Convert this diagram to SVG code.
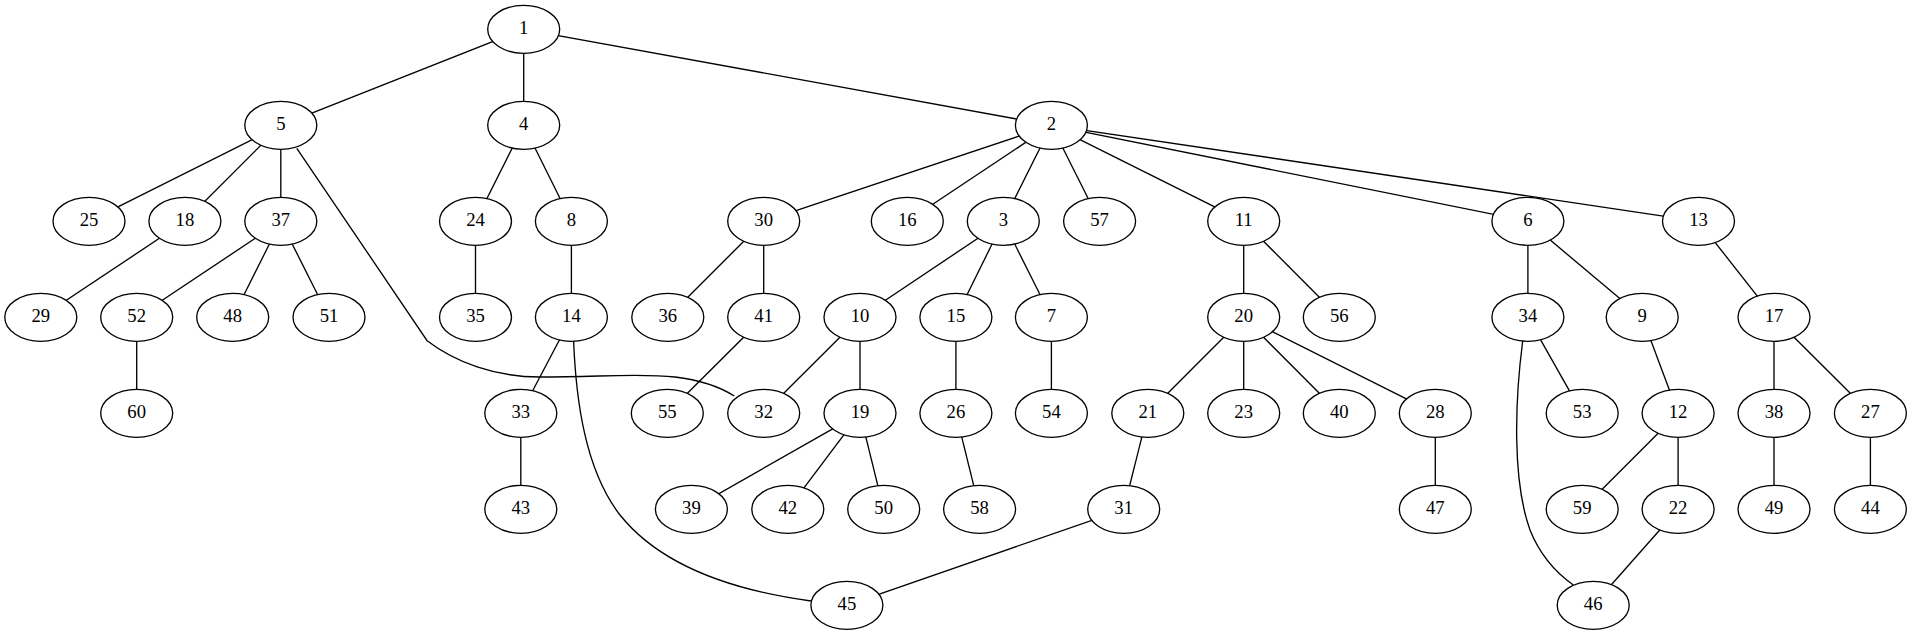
<svg xmlns="http://www.w3.org/2000/svg" width="1912" height="635" viewBox="0 0 1912 635">
<style>
.n ellipse{fill:#fff;stroke:#000;stroke-width:1.33}
.n text{font-family:"Liberation Serif","Times New Roman",serif;font-size:18.67px;text-anchor:middle;fill:#000}
#edges line,#edges path{stroke:#000;stroke-width:1.33;fill:none}
</style>
<rect width="1912" height="635" fill="#fff"/>
<g id="edges">
<line x1="523.7" y1="29.3" x2="280.8" y2="125.3"/>
<line x1="523.7" y1="29.3" x2="523.7" y2="125.3"/>
<line x1="523.7" y1="29.3" x2="1051.4" y2="125.3"/>
<line x1="280.8" y1="125.3" x2="89" y2="221.3"/>
<line x1="280.8" y1="125.3" x2="184.9" y2="221.3"/>
<line x1="280.8" y1="125.3" x2="280.8" y2="221.3"/>
<path d="M296.8,148.3 L427.1,340.7 C455,362 495,377 540,377 C600,377 640,373 675,377 C700,380 720,387 734.3,396"/>
<line x1="523.7" y1="125.3" x2="475.5" y2="221.3"/>
<line x1="523.7" y1="125.3" x2="571.4" y2="221.3"/>
<line x1="1051.4" y1="125.3" x2="763.7" y2="221.3"/>
<line x1="1051.4" y1="125.3" x2="907.3" y2="221.3"/>
<line x1="1051.4" y1="125.3" x2="1003.3" y2="221.3"/>
<line x1="1051.4" y1="125.3" x2="1099.6" y2="221.3"/>
<line x1="1051.4" y1="125.3" x2="1243.7" y2="221.3"/>
<line x1="1051.4" y1="125.3" x2="1527.9" y2="221.3"/>
<line x1="1051.4" y1="125.3" x2="1698.5" y2="221.3"/>
<line x1="184.9" y1="221.3" x2="40.8" y2="317.3"/>
<line x1="280.8" y1="221.3" x2="136.7" y2="317.3"/>
<line x1="280.8" y1="221.3" x2="232.7" y2="317.3"/>
<line x1="280.8" y1="221.3" x2="329" y2="317.3"/>
<line x1="475.5" y1="221.3" x2="475.5" y2="317.3"/>
<line x1="571.4" y1="221.3" x2="571.4" y2="317.3"/>
<line x1="763.7" y1="221.3" x2="667.8" y2="317.3"/>
<line x1="763.7" y1="221.3" x2="763.7" y2="317.3"/>
<line x1="1003.3" y1="221.3" x2="860" y2="317.3"/>
<line x1="1003.3" y1="221.3" x2="955.9" y2="317.3"/>
<line x1="1003.3" y1="221.3" x2="1051.4" y2="317.3"/>
<line x1="1243.7" y1="221.3" x2="1243.7" y2="317.3"/>
<line x1="1243.7" y1="221.3" x2="1339.3" y2="317.3"/>
<line x1="1527.9" y1="221.3" x2="1527.9" y2="317.3"/>
<line x1="1527.9" y1="221.3" x2="1642.2" y2="317.3"/>
<line x1="1698.5" y1="221.3" x2="1774" y2="317.3"/>
<line x1="136.7" y1="317.3" x2="136.7" y2="413.3"/>
<line x1="571.4" y1="317.3" x2="520.8" y2="413.3"/>
<path d="M573.6,340.7 C576,400 585,470 620,515 C660,565 730,590 811,601"/>
<line x1="763.7" y1="317.3" x2="667.3" y2="413.3"/>
<line x1="860" y1="317.3" x2="763.7" y2="413.3"/>
<line x1="860" y1="317.3" x2="860" y2="413.3"/>
<line x1="955.9" y1="317.3" x2="955.9" y2="413.3"/>
<line x1="1051.4" y1="317.3" x2="1051.4" y2="413.3"/>
<line x1="1243.7" y1="317.3" x2="1147.8" y2="413.3"/>
<line x1="1243.7" y1="317.3" x2="1243.7" y2="413.3"/>
<line x1="1243.7" y1="317.3" x2="1339.3" y2="413.3"/>
<line x1="1243.7" y1="317.3" x2="1435.3" y2="413.3"/>
<line x1="1527.9" y1="317.3" x2="1582.2" y2="413.3"/>
<path d="M1522.7,341 C1515,400 1512,480 1530,530 C1540,555 1555,572 1573.3,585"/>
<line x1="1642.2" y1="317.3" x2="1678.1" y2="413.3"/>
<line x1="1774" y1="317.3" x2="1774" y2="413.3"/>
<line x1="1774" y1="317.3" x2="1870.4" y2="413.3"/>
<line x1="520.8" y1="413.3" x2="520.8" y2="509.3"/>
<line x1="860" y1="413.3" x2="691.4" y2="509.3"/>
<line x1="860" y1="413.3" x2="787.8" y2="509.3"/>
<line x1="860" y1="413.3" x2="883.7" y2="509.3"/>
<line x1="955.9" y1="413.3" x2="979.6" y2="509.3"/>
<line x1="1147.8" y1="413.3" x2="1123.7" y2="509.3"/>
<line x1="1435.3" y1="413.3" x2="1435.3" y2="509.3"/>
<line x1="1678.1" y1="413.3" x2="1582.2" y2="509.3"/>
<line x1="1678.1" y1="413.3" x2="1678.1" y2="509.3"/>
<line x1="1774" y1="413.3" x2="1774" y2="509.3"/>
<line x1="1870.4" y1="413.3" x2="1870.4" y2="509.3"/>
<line x1="1123.7" y1="509.3" x2="846.9" y2="605.3"/>
<line x1="1678.1" y1="509.3" x2="1593.2" y2="605.3"/>
</g>
<g id="n1" class="n"><ellipse cx="523.7" cy="29.3" rx="36" ry="24"/><text x="523.7" y="34.3">1</text></g>
<g id="n2" class="n"><ellipse cx="1051.4" cy="125.3" rx="36" ry="24"/><text x="1051.4" y="130.3">2</text></g>
<g id="n3" class="n"><ellipse cx="1003.3" cy="221.3" rx="36" ry="24"/><text x="1003.3" y="226.3">3</text></g>
<g id="n4" class="n"><ellipse cx="523.7" cy="125.3" rx="36" ry="24"/><text x="523.7" y="130.3">4</text></g>
<g id="n5" class="n"><ellipse cx="280.8" cy="125.3" rx="36" ry="24"/><text x="280.8" y="130.3">5</text></g>
<g id="n6" class="n"><ellipse cx="1527.9" cy="221.3" rx="36" ry="24"/><text x="1527.9" y="226.3">6</text></g>
<g id="n7" class="n"><ellipse cx="1051.4" cy="317.3" rx="36" ry="24"/><text x="1051.4" y="322.3">7</text></g>
<g id="n8" class="n"><ellipse cx="571.4" cy="221.3" rx="36" ry="24"/><text x="571.4" y="226.3">8</text></g>
<g id="n9" class="n"><ellipse cx="1642.2" cy="317.3" rx="36" ry="24"/><text x="1642.2" y="322.3">9</text></g>
<g id="n10" class="n"><ellipse cx="860" cy="317.3" rx="36" ry="24"/><text x="860" y="322.3">10</text></g>
<g id="n11" class="n"><ellipse cx="1243.7" cy="221.3" rx="36" ry="24"/><text x="1243.7" y="226.3">11</text></g>
<g id="n12" class="n"><ellipse cx="1678.1" cy="413.3" rx="36" ry="24"/><text x="1678.1" y="418.3">12</text></g>
<g id="n13" class="n"><ellipse cx="1698.5" cy="221.3" rx="36" ry="24"/><text x="1698.5" y="226.3">13</text></g>
<g id="n14" class="n"><ellipse cx="571.4" cy="317.3" rx="36" ry="24"/><text x="571.4" y="322.3">14</text></g>
<g id="n15" class="n"><ellipse cx="955.9" cy="317.3" rx="36" ry="24"/><text x="955.9" y="322.3">15</text></g>
<g id="n16" class="n"><ellipse cx="907.3" cy="221.3" rx="36" ry="24"/><text x="907.3" y="226.3">16</text></g>
<g id="n17" class="n"><ellipse cx="1774" cy="317.3" rx="36" ry="24"/><text x="1774" y="322.3">17</text></g>
<g id="n18" class="n"><ellipse cx="184.9" cy="221.3" rx="36" ry="24"/><text x="184.9" y="226.3">18</text></g>
<g id="n19" class="n"><ellipse cx="860" cy="413.3" rx="36" ry="24"/><text x="860" y="418.3">19</text></g>
<g id="n20" class="n"><ellipse cx="1243.7" cy="317.3" rx="36" ry="24"/><text x="1243.7" y="322.3">20</text></g>
<g id="n21" class="n"><ellipse cx="1147.8" cy="413.3" rx="36" ry="24"/><text x="1147.8" y="418.3">21</text></g>
<g id="n22" class="n"><ellipse cx="1678.1" cy="509.3" rx="36" ry="24"/><text x="1678.1" y="514.3">22</text></g>
<g id="n23" class="n"><ellipse cx="1243.7" cy="413.3" rx="36" ry="24"/><text x="1243.7" y="418.3">23</text></g>
<g id="n24" class="n"><ellipse cx="475.5" cy="221.3" rx="36" ry="24"/><text x="475.5" y="226.3">24</text></g>
<g id="n25" class="n"><ellipse cx="89" cy="221.3" rx="36" ry="24"/><text x="89" y="226.3">25</text></g>
<g id="n26" class="n"><ellipse cx="955.9" cy="413.3" rx="36" ry="24"/><text x="955.9" y="418.3">26</text></g>
<g id="n27" class="n"><ellipse cx="1870.4" cy="413.3" rx="36" ry="24"/><text x="1870.4" y="418.3">27</text></g>
<g id="n28" class="n"><ellipse cx="1435.3" cy="413.3" rx="36" ry="24"/><text x="1435.3" y="418.3">28</text></g>
<g id="n29" class="n"><ellipse cx="40.8" cy="317.3" rx="36" ry="24"/><text x="40.8" y="322.3">29</text></g>
<g id="n30" class="n"><ellipse cx="763.7" cy="221.3" rx="36" ry="24"/><text x="763.7" y="226.3">30</text></g>
<g id="n31" class="n"><ellipse cx="1123.7" cy="509.3" rx="36" ry="24"/><text x="1123.7" y="514.3">31</text></g>
<g id="n32" class="n"><ellipse cx="763.7" cy="413.3" rx="36" ry="24"/><text x="763.7" y="418.3">32</text></g>
<g id="n33" class="n"><ellipse cx="520.8" cy="413.3" rx="36" ry="24"/><text x="520.8" y="418.3">33</text></g>
<g id="n34" class="n"><ellipse cx="1527.9" cy="317.3" rx="36" ry="24"/><text x="1527.9" y="322.3">34</text></g>
<g id="n35" class="n"><ellipse cx="475.5" cy="317.3" rx="36" ry="24"/><text x="475.5" y="322.3">35</text></g>
<g id="n36" class="n"><ellipse cx="667.8" cy="317.3" rx="36" ry="24"/><text x="667.8" y="322.3">36</text></g>
<g id="n37" class="n"><ellipse cx="280.8" cy="221.3" rx="36" ry="24"/><text x="280.8" y="226.3">37</text></g>
<g id="n38" class="n"><ellipse cx="1774" cy="413.3" rx="36" ry="24"/><text x="1774" y="418.3">38</text></g>
<g id="n39" class="n"><ellipse cx="691.4" cy="509.3" rx="36" ry="24"/><text x="691.4" y="514.3">39</text></g>
<g id="n40" class="n"><ellipse cx="1339.3" cy="413.3" rx="36" ry="24"/><text x="1339.3" y="418.3">40</text></g>
<g id="n41" class="n"><ellipse cx="763.7" cy="317.3" rx="36" ry="24"/><text x="763.7" y="322.3">41</text></g>
<g id="n42" class="n"><ellipse cx="787.8" cy="509.3" rx="36" ry="24"/><text x="787.8" y="514.3">42</text></g>
<g id="n43" class="n"><ellipse cx="520.8" cy="509.3" rx="36" ry="24"/><text x="520.8" y="514.3">43</text></g>
<g id="n44" class="n"><ellipse cx="1870.4" cy="509.3" rx="36" ry="24"/><text x="1870.4" y="514.3">44</text></g>
<g id="n45" class="n"><ellipse cx="846.9" cy="605.3" rx="36" ry="24"/><text x="846.9" y="610.3">45</text></g>
<g id="n46" class="n"><ellipse cx="1593.2" cy="605.3" rx="36" ry="24"/><text x="1593.2" y="610.3">46</text></g>
<g id="n47" class="n"><ellipse cx="1435.3" cy="509.3" rx="36" ry="24"/><text x="1435.3" y="514.3">47</text></g>
<g id="n48" class="n"><ellipse cx="232.7" cy="317.3" rx="36" ry="24"/><text x="232.7" y="322.3">48</text></g>
<g id="n49" class="n"><ellipse cx="1774" cy="509.3" rx="36" ry="24"/><text x="1774" y="514.3">49</text></g>
<g id="n50" class="n"><ellipse cx="883.7" cy="509.3" rx="36" ry="24"/><text x="883.7" y="514.3">50</text></g>
<g id="n51" class="n"><ellipse cx="329" cy="317.3" rx="36" ry="24"/><text x="329" y="322.3">51</text></g>
<g id="n52" class="n"><ellipse cx="136.7" cy="317.3" rx="36" ry="24"/><text x="136.7" y="322.3">52</text></g>
<g id="n53" class="n"><ellipse cx="1582.2" cy="413.3" rx="36" ry="24"/><text x="1582.2" y="418.3">53</text></g>
<g id="n54" class="n"><ellipse cx="1051.4" cy="413.3" rx="36" ry="24"/><text x="1051.4" y="418.3">54</text></g>
<g id="n55" class="n"><ellipse cx="667.3" cy="413.3" rx="36" ry="24"/><text x="667.3" y="418.3">55</text></g>
<g id="n56" class="n"><ellipse cx="1339.3" cy="317.3" rx="36" ry="24"/><text x="1339.3" y="322.3">56</text></g>
<g id="n57" class="n"><ellipse cx="1099.6" cy="221.3" rx="36" ry="24"/><text x="1099.6" y="226.3">57</text></g>
<g id="n58" class="n"><ellipse cx="979.6" cy="509.3" rx="36" ry="24"/><text x="979.6" y="514.3">58</text></g>
<g id="n59" class="n"><ellipse cx="1582.2" cy="509.3" rx="36" ry="24"/><text x="1582.2" y="514.3">59</text></g>
<g id="n60" class="n"><ellipse cx="136.7" cy="413.3" rx="36" ry="24"/><text x="136.7" y="418.3">60</text></g>
</svg>
